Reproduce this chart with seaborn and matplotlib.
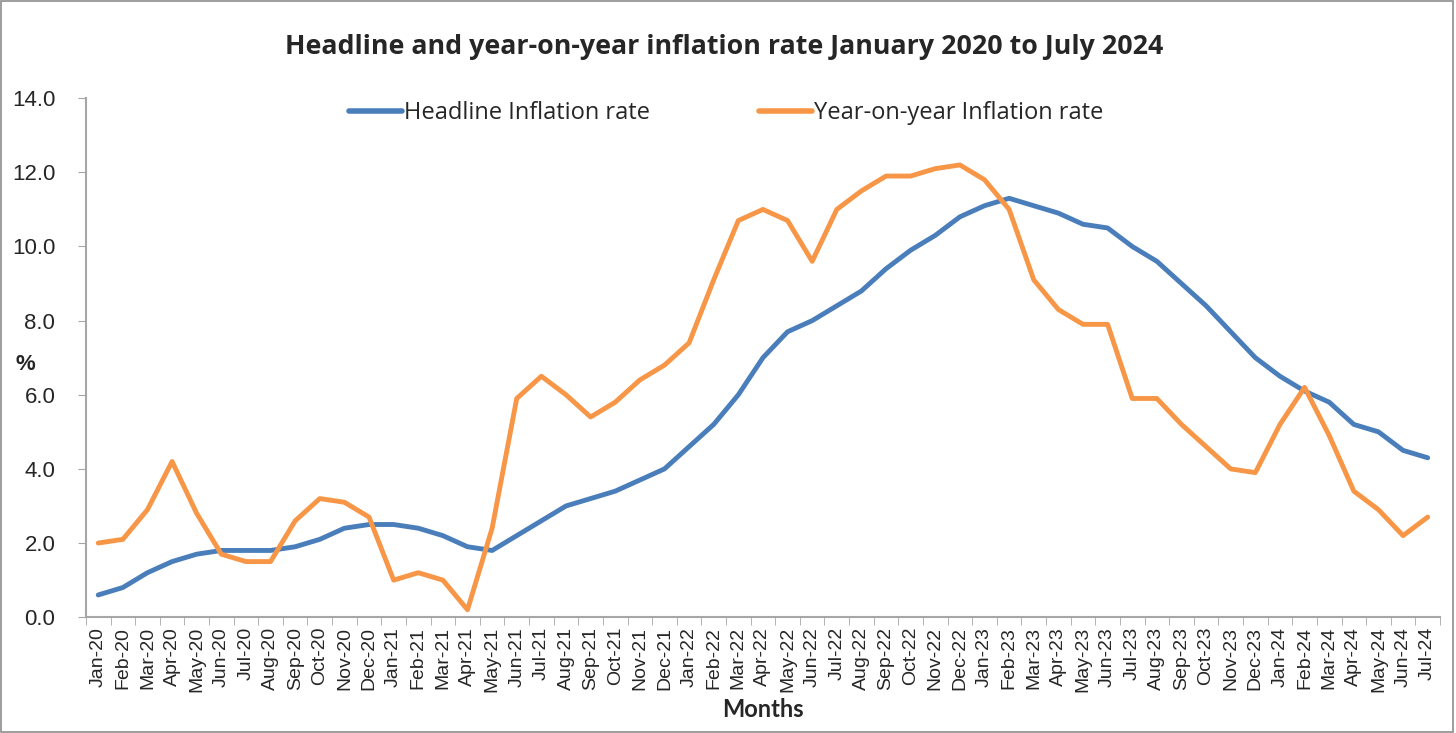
import numpy as np
import pandas as pd
import seaborn as sns
import matplotlib.pyplot as plt

months = ['Jan-20', 'Feb-20', 'Mar-20', 'Apr-20', 'May-20', 'Jun-20', 'Jul-20', 'Aug-20', 'Sep-20', 'Oct-20', 'Nov-20', 'Dec-20',
          'Jan-21', 'Feb-21', 'Mar-21', 'Apr-21', 'May-21', 'Jun-21', 'Jul-21', 'Aug-21', 'Sep-21', 'Oct-21', 'Nov-21', 'Dec-21',
          'Jan-22', 'Feb-22', 'Mar-22', 'Apr-22', 'May-22', 'Jun-22', 'Jul-22', 'Aug-22', 'Sep-22', 'Oct-22', 'Nov-22', 'Dec-22',
          'Jan-23', 'Feb-23', 'Mar-23', 'Apr-23', 'May-23', 'Jun-23', 'Jul-23', 'Aug-23', 'Sep-23', 'Oct-23', 'Nov-23', 'Dec-23',
          'Jan-24', 'Feb-24', 'Mar-24', 'Apr-24', 'May-24', 'Jun-24', 'Jul-24']

headline = [0.6, 0.8, 1.2, 1.5, 1.7, 1.8, 1.8, 1.8, 1.9, 2.1, 2.4, 2.5,
            2.5, 2.4, 2.2, 1.9, 1.8, 2.2, 2.6, 3.0, 3.2, 3.4, 3.7, 4.0,
            4.6, 5.2, 6.0, 7.0, 7.7, 8.0, 8.4, 8.8, 9.4, 9.9, 10.3, 10.8,
            11.1, 11.3, 11.1, 10.9, 10.6, 10.5, 10.0, 9.6, 9.0, 8.4, 7.7, 7.0,
            6.5, 6.1, 5.8, 5.2, 5.0, 4.5, 4.3]

yoy = [2.0, 2.1, 2.9, 4.2, 2.8, 1.7, 1.5, 1.5, 2.6, 3.2, 3.1, 2.7,
       1.0, 1.2, 1.0, 0.2, 2.4, 5.9, 6.5, 6.0, 5.4, 5.8, 6.4, 6.8,
       7.4, 9.1, 10.7, 11.0, 10.7, 9.6, 11.0, 11.5, 11.9, 11.9, 12.1, 12.2,
       11.8, 11.0, 9.1, 8.3, 7.9, 7.9, 5.9, 5.9, 5.2, 4.6, 4.0, 3.9,
       5.2, 6.2, 4.9, 3.4, 2.9, 2.2, 2.7]

series_names = ['Headline Inflation rate', 'Year-on-year Inflation rate']

df = pd.DataFrame({'idx': np.arange(len(months)), 'Month': months,
                   series_names[0]: headline, series_names[1]: yoy})
long = df.melt(id_vars=['idx', 'Month'], var_name='Series', value_name='Rate')

sns.set_style('white')
plt.rcParams['font.family'] = ['Liberation Sans', 'DejaVu Sans']

fig = plt.figure(figsize=(14.56, 7.33), dpi=100)
ax = fig.add_axes([0.059, 0.158, 0.93, 0.708])

sns.lineplot(data=long, x='idx', y='Rate', hue='Series', hue_order=series_names,
             palette=['#4a7ebb', '#f79646'], linewidth=3.5, ax=ax)

ax.set_xlim(-0.5, len(months) - 0.5)
ax.set_ylim(0, 14)
ax.set_yticks(np.arange(0, 14.1, 2))
ax.set_yticklabels([f'{v:.1f}' for v in np.arange(0, 14.1, 2)], fontsize=16)
ax.set_xticks(np.arange(len(months)))
ax.set_xticklabels(months, rotation=90, fontsize=14)
ax.set_xticks(np.arange(-0.5, len(months), 1), minor=True)
ax.tick_params(axis='x', which='major', length=0, pad=7)
ax.tick_params(axis='x', which='minor', length=6, color='#a6a6a6', direction='out', bottom=True)
ax.tick_params(axis='y', length=6, color='#a6a6a6', direction='out', left=True, pad=16)

for s in ['top', 'right']:
    ax.spines[s].set_visible(False)
for s in ['left', 'bottom']:
    ax.spines[s].set_color('#a6a6a6')
    ax.spines[s].set_linewidth(1.5)

ax.set_xlabel('Months', fontsize=17, fontweight='bold', family=['Lato', 'DejaVu Sans'], labelpad=4)
ax.set_ylabel('%', fontsize=16, fontweight='bold', rotation=0, ha='center', va='center')
ax.yaxis.set_label_coords(-0.045, 0.486)

leg = ax.legend(loc='center', bbox_to_anchor=(0.473, 0.971), ncol=2, frameon=False,
                prop={'family': ['Open Sans', 'DejaVu Sans'], 'size': 17},
                handlelength=2.25, columnspacing=4.6, handletextpad=0.1)
for line in leg.get_lines():
    line.set_linewidth(4)

fig.text(0.497, 0.936, 'Headline and year-on-year inflation rate January 2020 to July 2024',
         ha='center', va='center', fontsize=19.3, fontweight='bold', family=['Open Sans', 'DejaVu Sans'])

fig.patches.append(plt.Rectangle((0.001, 0.001), 0.997, 0.997, transform=fig.transFigure,
                                 fill=False, edgecolor='#8c8c8c', linewidth=1.2))

fig.savefig('out.png', dpi=100)
